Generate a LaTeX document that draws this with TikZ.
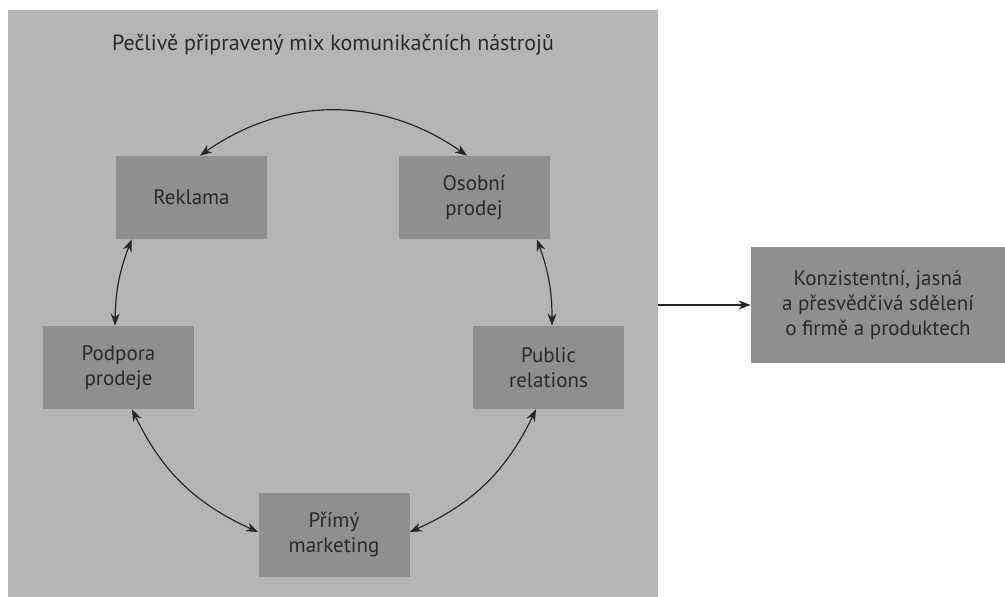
\documentclass[tikz,border=0pt]{standalone}
\usepackage{fontspec}
\setmainfont{PT Sans}
\usepackage{tikz}
\usetikzlibrary{positioning,calc,arrows.meta}
\definecolor{panelgray}{HTML}{B5B5B5}
\definecolor{boxgray}{HTML}{8F8F8F}
\definecolor{textgray}{HTML}{2A2A2A}

\begin{document}
\begin{tikzpicture}[x=0.5pt,y=-0.5pt,
    tool/.style={fill=boxgray, text=textgray, align=center, inner sep=0pt,
        minimum width=75.5pt, minimum height=41.5pt,
        font=\fontsize{10.5}{12.5}\selectfont},
    link/.style={{Stealth[length=6pt,width=4.5pt]}-{Stealth[length=6pt,width=4.5pt]},
        line width=0.6pt, draw=black!85}]
    \useasboundingbox (0,0) rectangle (1005,597);

    % grey panel with the mix
    \node[fill=panelgray, inner sep=0pt, minimum width=325pt, minimum height=293.5pt] (panel) at (333,303.5) {};
    \node[text=textgray, font=\fontsize{11}{13}\selectfont] (title) at (333,45) {Pečlivě připravený mix komunikačních nástrojů};

    \node[tool] (rekl) at (191.5,197.5) {Reklama};
    \node[tool] (osob) at (474,197.5) {Osobní\\prodej};
    \node[tool] (podp) at (118.5,367.5) {Podpora\\prodeje};
    \node[tool] (pr) at (548.5,367.5) {Public\\relations};
    \node[tool] (prim) at (334,535) {Přímý\\marketing};

    % result
    \node[tool, minimum width=127pt, minimum height=58pt] (goal) at (878,305) {Konzistentní, jasná\\a přesvědčivá sdělení\\o firmě a produktech};

    \draw[link] ([xshift=4.25pt]rekl.north) to[bend left=35] ([xshift=-3.5pt]osob.north);
    \draw[link] ([xshift=-6.5pt]osob.south east) to[bend left=10] ([xshift=1.75pt]pr.north);
    \draw[link] ([xshift=-6.25pt]pr.south) to[bend left=20] ([yshift=1.5pt]prim.east);
    \draw[link] ([xshift=6.75pt]podp.south) to[bend right=20] ([yshift=1.5pt]prim.west);
    \draw[link] ([xshift=8pt]rekl.south west) to[bend right=10] ([xshift=-1.75pt]podp.north);

    \draw[-{Stealth[length=6pt,width=4.5pt]}, line width=0.6pt, draw=black!85] (panel.east |- goal.west) -- (goal.west);
\end{tikzpicture}
\end{document}
